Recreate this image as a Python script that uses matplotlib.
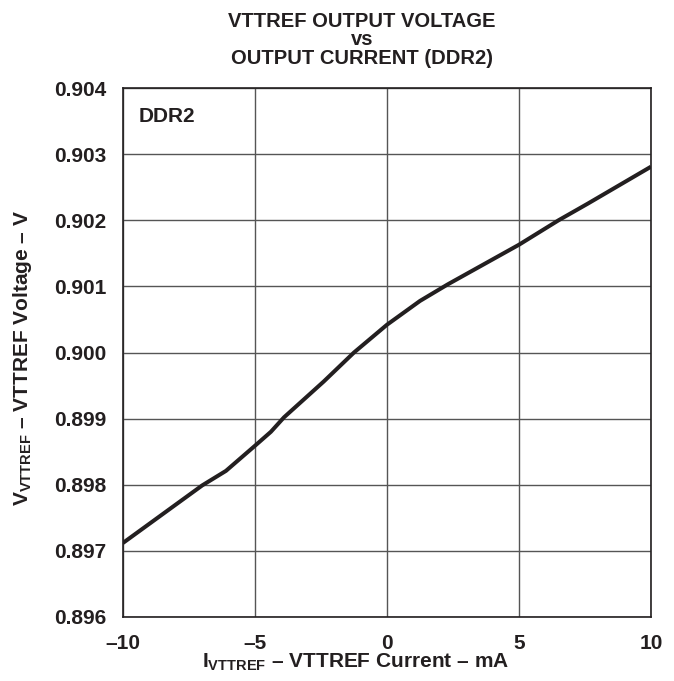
import matplotlib
matplotlib.use('Agg')
import matplotlib.pyplot as plt

# current (mA) vs VTTREF voltage (V)
current = [-10, -7, -6.1, -5, -4.4, -3.9, -2.4, -1.25, 0, 1.25, 2.3, 5, 6.5, 7.6, 10]
voltage = [0.89712, 0.89799, 0.89821, 0.89859, 0.89880, 0.89902, 0.89956, 0.90000,
           0.90042, 0.90078, 0.90103, 0.90163, 0.90200, 0.90225, 0.90281]

x_ticks = [-10, -5, 0, 5, 10]
x_tick_labels = ['\u201310', '\u20135', '0', '5', '10']
y_ticks = [0.896, 0.897, 0.898, 0.899, 0.900, 0.901, 0.902, 0.903, 0.904]

title_lines = ['VTTREF OUTPUT VOLTAGE', 'vs', 'OUTPUT CURRENT (DDR2)']

DASH = '\u2013'
INK = '#231f20'

plt.rcParams['font.family'] = ['Liberation Sans', 'DejaVu Sans']
plt.rcParams['font.weight'] = 'bold'
plt.rcParams['mathtext.fontset'] = 'custom'
plt.rcParams['mathtext.rm'] = 'Liberation Sans:bold'
plt.rcParams['mathtext.it'] = 'Liberation Sans:bold'
plt.rcParams['mathtext.bf'] = 'Liberation Sans:bold'

fig = plt.figure(figsize=(6.74, 6.81), dpi=100)
ax = fig.add_axes([123/674, 1 - 617/681, (651-123)/674, (617-88)/681])

ax.plot(current, voltage, color=INK, linewidth=2.9, solid_capstyle='butt')

ax.set_xlim(-10, 10)
ax.set_ylim(0.896, 0.904)
ax.set_xticks(x_ticks)
ax.set_xticklabels(x_tick_labels)
ax.set_yticks(y_ticks)
ax.set_yticklabels(['%.3f' % v for v in y_ticks])
ax.tick_params(length=0, labelsize=15, colors=INK)
ax.tick_params(axis='x', pad=12)
ax.tick_params(axis='y', pad=12)
ax.grid(True, color='#555555', linewidth=1.0)
for s in ax.spines.values():
    s.set_color(INK)
    s.set_linewidth(1.2)

ax.text(0.03, 0.965, 'DDR2', transform=ax.transAxes, fontsize=15,
        fontweight='bold', va='top', ha='left', color=INK)

# title as one block of three centred lines
fig.text(362/674, 1 - 12/681, '\n'.join(title_lines), ha='center', va='top',
         multialignment='center', linespacing=0.95,
         fontsize=14.5, fontweight='bold', color=INK)

fig.text(356/674, 1 - 662/681, r'I$_{\mathrm{VTTREF}}$ ' + DASH + ' VTTREF Current ' + DASH + ' mA',
         ha='center', va='center', fontsize=15, fontweight='bold', color=INK)
fig.text(23/674, 1 - 358/681, r'V$_{\mathrm{VTTREF}}$ ' + DASH + ' VTTREF Voltage ' + DASH + ' V',
         ha='center', va='center', rotation=90, fontsize=15, fontweight='bold', color=INK)

fig.savefig('out.png', dpi=100)
